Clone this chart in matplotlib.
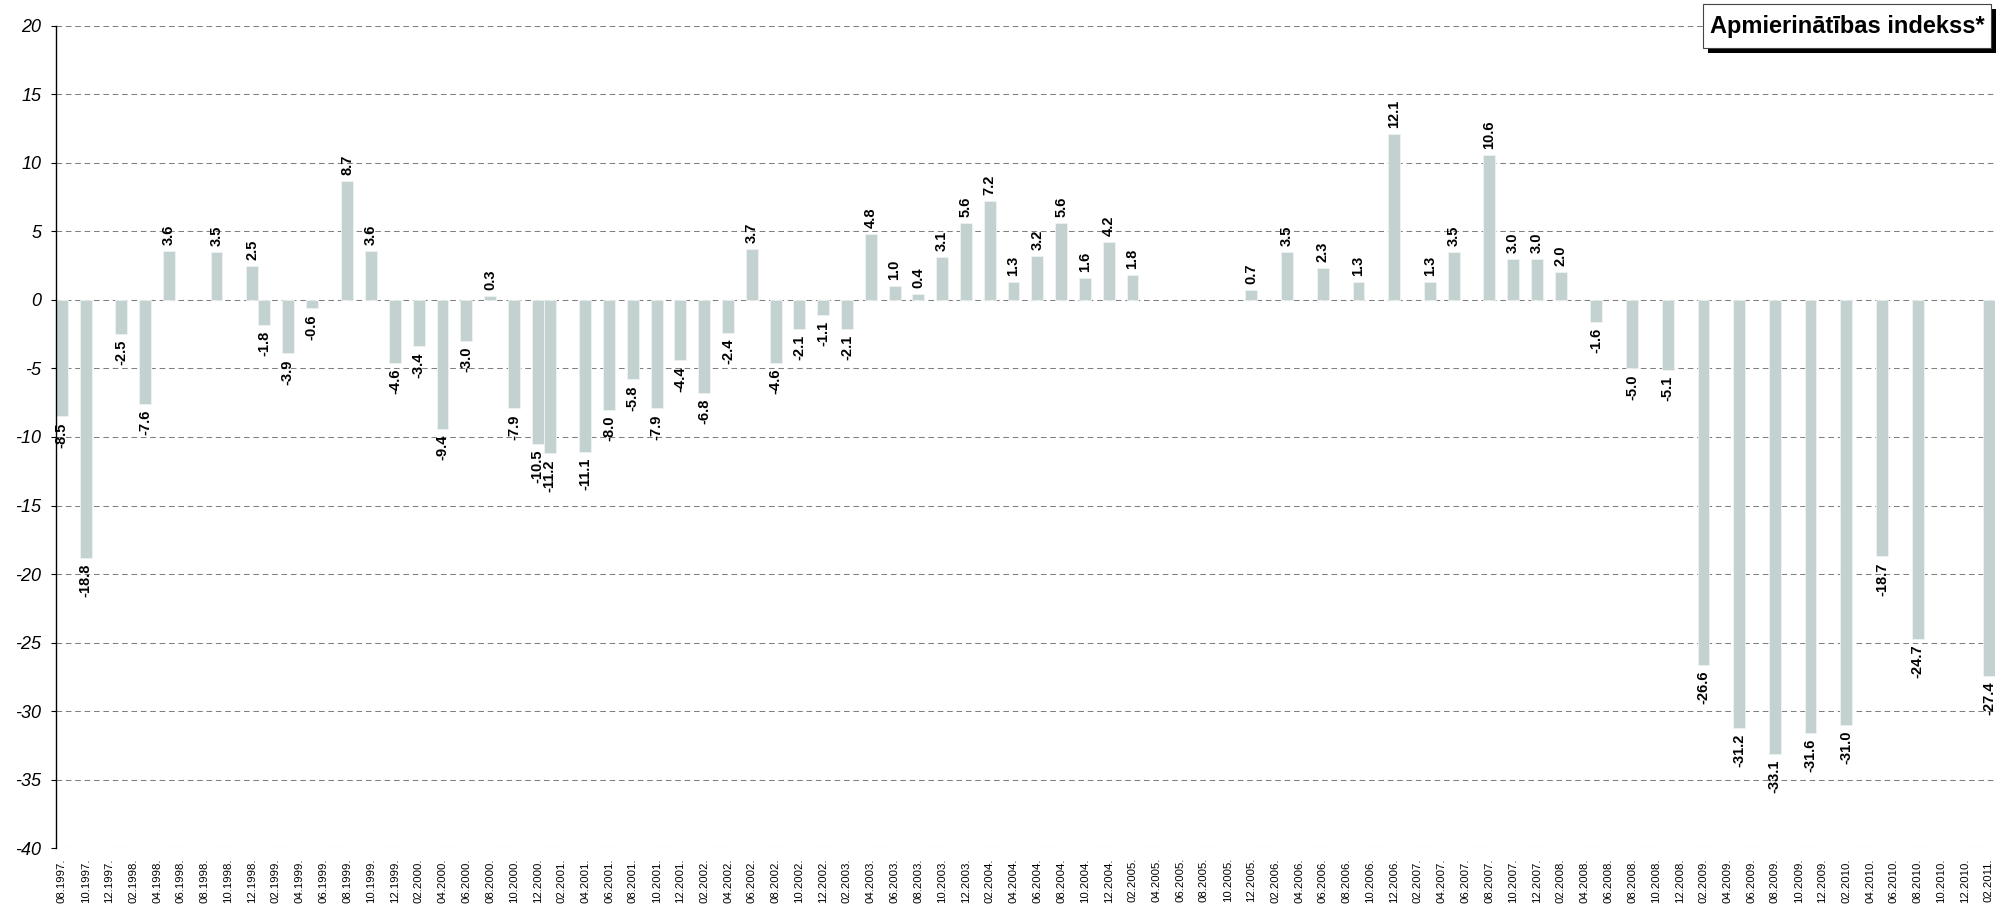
import numpy as np
import pandas as pd
import matplotlib.pyplot as plt
from matplotlib.patches import Rectangle

plt.rcParams['font.family'] = ['Liberation Sans', 'DejaVu Sans']
plt.rcParams['axes.unicode_minus'] = False

# Months that have a survey value (MM.YYYY) and the index values
dates = ['08.1997', '10.1997', '01.1998', '03.1998', '05.1998', '09.1998',
         '12.1998', '01.1999', '03.1999', '05.1999', '08.1999', '10.1999',
         '12.1999', '02.2000', '04.2000', '06.2000', '08.2000', '10.2000',
         '12.2000', '01.2001', '04.2001', '06.2001', '08.2001', '10.2001',
         '12.2001', '02.2002', '04.2002', '06.2002', '08.2002', '10.2002',
         '12.2002', '02.2003', '04.2003', '06.2003', '08.2003', '10.2003',
         '12.2003', '02.2004', '04.2004', '06.2004', '08.2004', '10.2004',
         '12.2004', '02.2005', '12.2005', '03.2006', '06.2006', '09.2006',
         '12.2006', '03.2007', '05.2007', '08.2007', '10.2007', '12.2007',
         '02.2008', '05.2008', '08.2008', '11.2008', '02.2009', '05.2009',
         '08.2009', '11.2009', '02.2010', '05.2010', '08.2010', '02.2011']
values = [-8.5, -18.8, -2.5, -7.6, 3.6, 3.5,
          2.5, -1.8, -3.9, -0.6, 8.7, 3.6,
          -4.6, -3.4, -9.4, -3.0, 0.3, -7.9,
          -10.5, -11.2, -11.1, -8.0, -5.8, -7.9,
          -4.4, -6.8, -2.4, 3.7, -4.6, -2.1,
          -1.1, -2.1, 4.8, 1.0, 0.4, 3.1,
          5.6, 7.2, 1.3, 3.2, 5.6, 1.6,
          4.2, 1.8, 0.7, 3.5, 2.3, 1.3,
          12.1, 1.3, 3.5, 10.6, 3.0, 3.0,
          2.0, -1.6, -5.0, -5.1, -26.6, -31.2,
          -33.1, -31.6, -31.0, -18.7, -24.7, -27.4]

# Monthly category axis, labelled every second month
months = pd.date_range('1997-08-01', '2011-02-01', freq='MS').strftime('%m.%Y').tolist()
tick_labels = [m + '.' for m in months[::2]]

title = 'Apmierinātības indekss*'
bar_color = '#c3d2d0'

pos = [months.index(d) for d in dates]

fig = plt.figure(figsize=(20.11, 9.10), dpi=100)
ax = fig.add_axes([0.0278, 0.0678, 0.9642, 0.904])

ax.bar(pos, values, width=1.0, color=bar_color, edgecolor='#eef3f2', linewidth=0.6, zorder=2)

# Value labels, rotated
for x, v in zip(pos, values):
    if v >= 0:
        ax.annotate(f'{v:.1f}', (x, v), xytext=(0, 4.3), textcoords='offset points',
                    rotation=90, ha='center', va='bottom', fontsize=10.5,
                    fontweight='bold', color='black', zorder=3)
    else:
        ax.annotate(f'{v:.1f}', (x, v), xytext=(0, -4.3), textcoords='offset points',
                    rotation=90, ha='center', va='top', fontsize=10.5,
                    fontweight='bold', color='black', zorder=3)

ax.set_xlim(-0.5, len(months) - 0.5)
ax.set_ylim(-40, 20)
ax.set_yticks(np.arange(-40, 21, 5))
ax.set_xticks(np.arange(0, len(months), 2))
ax.set_xticklabels(tick_labels, rotation=90, fontsize=8.2, va='top', ha='center')
ax.tick_params(axis='x', length=0, pad=7)
ax.tick_params(axis='y', length=3.6, width=0.8, pad=7, labelsize=13)
for lbl in ax.get_yticklabels():
    lbl.set_fontstyle('italic')

ax.grid(axis='y', color='#808080', linestyle=(0, (5.4, 3.6)), linewidth=0.75, zorder=1)
ax.set_axisbelow(True)
for side in ['top', 'right', 'bottom']:
    ax.spines[side].set_visible(False)
ax.spines['left'].set_linewidth(1.0)
ax.spines['left'].set_zorder(4)

# Title box with drop shadow in the top right corner
W, H = 2011, 910
fig.patches.append(Rectangle((1708 / W, 1 - 53 / H), 288 / W, 44 / H, transform=fig.transFigure,
                             facecolor='black', edgecolor='none', zorder=5))
fig.patches.append(Rectangle((1703 / W, 1 - 48 / H), 288 / W, 44 / H, transform=fig.transFigure,
                             facecolor='white', edgecolor='#444444', linewidth=0.8, zorder=6))
fig.text((1703 + 144) / W, 1 - 26 / H, title, ha='center', va='center',
         fontsize=17, fontweight='bold', zorder=7)

fig.savefig('out.png', dpi=100)
